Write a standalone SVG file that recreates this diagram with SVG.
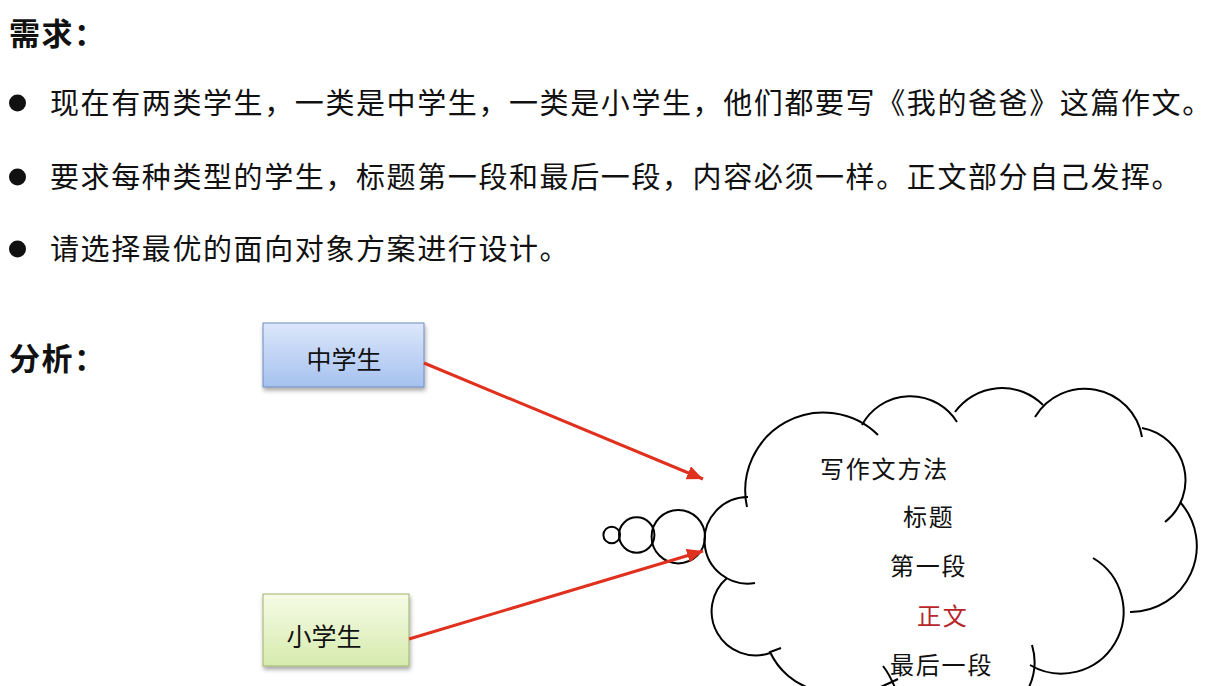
<svg xmlns="http://www.w3.org/2000/svg" width="1213" height="686" viewBox="0 0 1213 686">
  <style>
    .cjk { font-family: "Noto Sans CJK SC", "Noto Sans", sans-serif; fill: #111; }
    .head { font-size: 31px; font-weight: 700; letter-spacing: 1.5px; }
    .bul { font-size: 29px; letter-spacing: 1.6px; font-weight: 400; }
    .cl { font-size: 24px; letter-spacing: 1.8px; fill: #111; font-weight: 400; }
    .box { font-size: 25px; font-weight: 400; }
    .cloud { fill: none; stroke: #000; stroke-width: 2; }
    .arrow { stroke: #e0301e; stroke-width: 3; fill: none; marker-end: url(#ah); }
  </style>
  <defs>
    <linearGradient id="gBlue" x1="0" y1="0" x2="0" y2="1">
      <stop offset="0" stop-color="#dce7fb"/>
      <stop offset="1" stop-color="#a6c1ef"/>
    </linearGradient>
    <linearGradient id="gGreen" x1="0" y1="0" x2="0" y2="1">
      <stop offset="0" stop-color="#f6fbe6"/>
      <stop offset="1" stop-color="#d6ebae"/>
    </linearGradient>
    <filter id="sh" x="-10%" y="-10%" width="125%" height="140%">
      <feDropShadow dx="1" dy="3" stdDeviation="2" flood-color="#000" flood-opacity="0.35"/>
    </filter>
    <marker id="ah" markerUnits="userSpaceOnUse" markerWidth="18" markerHeight="14" refX="16" refY="7" orient="auto">
      <path d="M0,0 L16,7 L0,14 Z" fill="#e0301e"/>
    </marker>
  </defs>
  <rect width="1213" height="686" fill="#fff"/>

  <g id="requirements">
    <text class="cjk head" x="9" y="45">需求：</text>
    <circle cx="17.5" cy="103" r="8.5" fill="#111"/>
    <text class="cjk bul" x="50" y="114">现在有两类学生，一类是中学生，一类是小学生，他们都要写《我的爸爸》这篇作文。</text>
    <circle cx="17.5" cy="177" r="8.5" fill="#111"/>
    <text class="cjk bul" x="50" y="188">要求每种类型的学生，标题第一段和最后一段，内容必须一样。正文部分自己发挥。</text>
    <circle cx="17.5" cy="249" r="8.5" fill="#111"/>
    <text class="cjk bul" x="50" y="260">请选择最优的面向对象方案进行设计。</text>
  </g>

  <g id="analysis-title">
    <text class="cjk head" x="9" y="370">分析：</text>
  </g>

  <g id="middle-student">
    <rect x="263" y="323" width="161" height="64" fill="url(#gBlue)" stroke="#6f8cc0" stroke-width="1" filter="url(#sh)"/>
    <text class="cjk box" x="344" y="369" text-anchor="middle">中学生</text>
  </g>

  <g id="primary-student">
    <rect x="263" y="594" width="146" height="72" fill="url(#gGreen)" stroke="#9fb46c" stroke-width="1" filter="url(#sh)"/>
    <text class="cjk box" x="324" y="646" text-anchor="middle">小学生</text>
  </g>

  <g id="cloud">
    <circle class="cloud" cx="611.7" cy="535" r="8.3"/>
    <circle class="cloud" cx="636.7" cy="535" r="17.7"/>
    <circle class="cloud" cx="678.3" cy="536.7" r="26.7"/>
    <path class="cloud" d="M755,583 A43.3,43.3 0 1 1 748,497"/>
    <path class="cloud" d="M747,507 A78,78 0 0 1 878,435"/>
    <path class="cloud" d="M862,425 A55,55 0 0 1 957,422"/>
    <path class="cloud" d="M955,412 A58,58 0 0 1 1043,405"/>
    <path class="cloud" d="M1035,417 A58,58 0 0 1 1142,437"/>
    <path class="cloud" d="M1142,428 A53,53 0 0 1 1165,522"/>
    <path class="cloud" d="M1180,502 A66,66 0 0 1 1130,612"/>
    <path class="cloud" d="M1093,558 A60,60 0 0 1 1030,665"/>
    <path class="cloud" d="M1032,645 A60,60 0 0 1 990,720"/>
    <path class="cloud" d="M883,666 Q890,675 896,690"/>
    <path class="cloud" d="M878,688 Q888,684 898,679"/>
    <path class="cloud" d="M815,690 A70,70 0 0 1 770,652 L781,648"/>
    <path class="cloud" d="M770,653 A44,44 0 0 1 727,578"/>
    <text class="cjk cl" x="820" y="478">写作文方法</text>
    <text class="cjk cl" x="903" y="526">标题</text>
    <text class="cjk cl" x="890" y="575">第一段</text>
    <text class="cjk cl" x="917" y="625" style="fill:#b8262a">正文</text>
    <text class="cjk cl" x="890" y="674">最后一段</text>
  </g>

  <g id="connectors">
    <line class="arrow" x1="424" y1="363" x2="703" y2="479"/>
    <line class="arrow" x1="409" y1="639" x2="703" y2="551"/>
  </g>
</svg>
